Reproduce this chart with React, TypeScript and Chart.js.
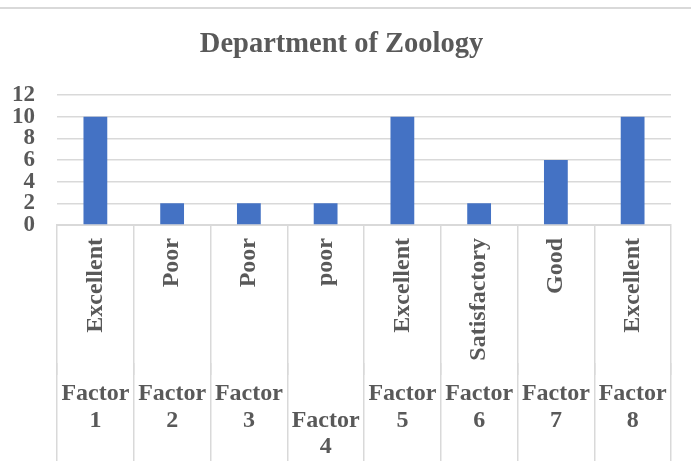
import React, { useEffect, useRef } from "react";
import { Chart, registerables } from "chart.js";

Chart.register(...registerables);

const ratings = ["Excellent", "Poor", "Poor", "poor", "Excellent", "Satisfactory", "Good", "Excellent"];
const factors: string[][] = [
  ["Factor", "1"],
  ["Factor", "2"],
  ["Factor", "3"],
  ["", "Factor", "4"],
  ["Factor", "5"],
  ["Factor", "6"],
  ["Factor", "7"],
  ["Factor", "8"],
];
const values = [10, 2, 2, 2, 10, 2, 6, 10];
const yMax = 12;
const yStep = 2;
const title = "Department of Zoology";

const FONT = "'Liberation Serif', 'Times New Roman', serif";
const TEXT = "#595959";
const GRID = "#d9d9d9";

const topLine = {
  id: "topLine",
  beforeDraw(chart: any) {
    const ctx = chart.ctx;
    ctx.save();
    ctx.fillStyle = GRID;
    ctx.fillRect(0, 7, chart.width, 2);
    ctx.restore();
  },
};

export default function App() {
  const ref = useRef<HTMLCanvasElement | null>(null);
  useEffect(() => {
    if (!ref.current) return;
    const chart = new Chart(ref.current, {
      type: "bar",
      data: {
        labels: ratings,
        datasets: [
          {
            data: values,
            backgroundColor: "#4472C4",
            barPercentage: 0.31,
            categoryPercentage: 1,
            xAxisID: "x",
          },
        ],
      },
      options: {
        animation: false,
        responsive: false,
        maintainAspectRatio: false,
        layout: { padding: { left: 12, right: 20, top: 0, bottom: 8 } },
        plugins: {
          legend: { display: false },
          tooltip: { enabled: false },
          title: {
            display: true,
            text: title,
            color: TEXT,
            font: { family: FONT, size: 28.5, weight: "bold" },
            padding: { top: 28, bottom: 33 },
          },
        },
        scales: {
          x: {
            type: "category",
            position: "bottom",
            afterFit: (s: any) => {
              s.height = 138;
            },
            grid: {
              offset: true,
              drawOnChartArea: false,
              drawTicks: true,
              tickLength: 150,
              color: GRID,
              lineWidth: 1.5,
            },
            border: { display: true, color: GRID, width: 2 },
            ticks: {
              autoSkip: false,
              minRotation: 90,
              maxRotation: 90,
              padding: -137,
              color: TEXT,
              font: { family: FONT, size: 24, weight: "bold" },
            },
          },
          x2: {
            type: "category",
            position: "bottom",
            labels: factors as any,
            afterFit: (s: any) => {
              s.height = 98;
            },
            grid: {
              offset: true,
              drawOnChartArea: false,
              drawTicks: true,
              tickLength: 98,
              color: GRID,
              lineWidth: 1.5,
            },
            border: { display: false },
            ticks: {
              autoSkip: false,
              maxRotation: 0,
              minRotation: 0,
              padding: -80,
              color: TEXT,
              font: { family: FONT, size: 24, weight: "bold", lineHeight: 1.1 },
            },
          },
          y: {
            min: 0,
            max: yMax,
            afterFit: (s: any) => {
              s.width = 45;
            },
            border: { display: false },
            grid: { color: GRID, lineWidth: 1.5, drawTicks: false },
            ticks: {
              stepSize: yStep,
              autoSkip: false,
              padding: 22,
              color: TEXT,
              font: { family: FONT, size: 23, weight: "bold" },
            },
          },
        },
      },
      plugins: [topLine],
    });
    return () => chart.destroy();
  }, []);
  return (
    <div style={{ position: "absolute", left: 0, top: 0, width: 691, height: 469, background: "#fff" }}>
      <canvas ref={ref} width={691} height={469} style={{ width: 691, height: 469 }} />
    </div>
  );
}
